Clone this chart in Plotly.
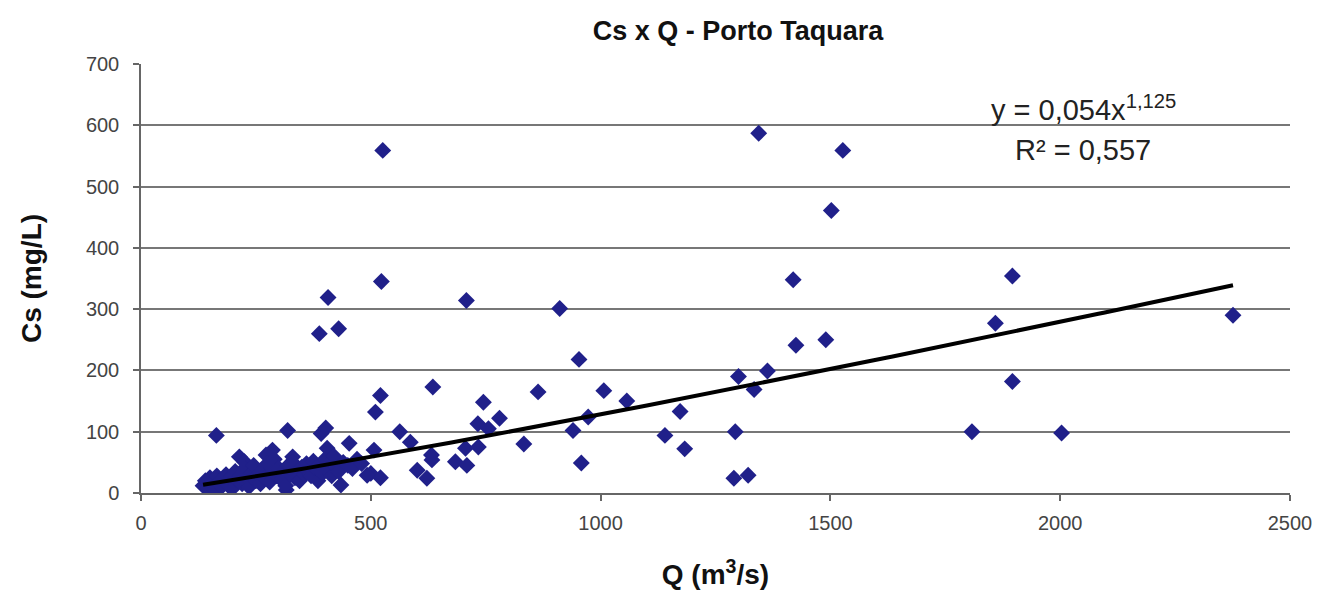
import plotly.graph_objects as go
import numpy as np

# Observed points: discharge Q (m3/s) and suspended sediment concentration Cs (mg/L)
q_vals = [
    526, 1344, 1527, 1502, 1419, 1896, 1859, 2376, 1425, 1490, 1363, 1300, 1334,
    1007, 1057, 1173, 1140, 1183, 1293, 1290, 1321, 1808, 1896, 2003,
    407, 523, 388, 430, 708, 911, 953,
    635, 521, 510, 864, 745, 780, 973, 940, 733, 756, 563, 586, 833, 507, 706,
    734, 632, 633, 684, 709, 958, 601, 622, 500, 521,
    164, 319, 392, 402, 453, 214, 225, 286, 330, 272, 405, 492, 435, 316,
    135, 140, 145, 150, 155, 160, 165, 170, 175, 180, 185, 190, 195, 200, 205,
    210, 215, 220, 225, 230, 235, 240, 245, 250, 255, 260, 265, 270, 275, 280,
    285, 290, 295, 300, 305, 310, 315, 320, 325, 330, 335, 340, 345, 350, 355,
    360, 365, 370, 375, 380, 385, 390, 395, 400, 405, 410, 415, 420, 425, 430,
    440, 450, 460, 470, 480,
]
cs_vals = [
    559, 587, 559, 461, 348, 354, 277, 290, 241, 250, 199, 190, 169,
    167, 150, 133, 94, 72, 100, 24, 29, 100, 182, 98,
    319, 345, 260, 268, 314, 301, 218,
    173, 159, 132, 165, 148, 122, 124, 102, 113, 105, 100, 83, 80, 70, 73,
    75, 62, 54, 51, 45, 49, 37, 24, 32, 25,
    94, 102, 97, 106, 81, 59, 51, 70, 59, 62, 73, 29, 13, 5,
    12, 20, 8, 25, 15, 5, 28, 18, 10, 22, 30, 12, 25, 8, 35,
    20, 28, 15, 40, 25, 10, 32, 45, 20, 30, 15, 38, 25, 48, 18,
    33, 55, 28, 40, 22, 35, 12, 45, 30, 50, 25, 38, 20, 42, 30,
    48, 35, 28, 52, 40, 20, 45, 32, 55, 38, 48, 28, 60, 42, 35,
    50, 45, 40, 55, 48,
]

# Power trendline shown on the chart: y = 0,054 x^1,125
trend_a = 0.054
trend_b = 1.125
trend_q_min = 135
trend_q_max = 2376

x_ticks = [0, 500, 1000, 1500, 2000, 2500]
y_ticks = [0, 100, 200, 300, 400, 500, 600, 700]

FONT = "Liberation Sans, Arial, sans-serif"

tq = np.linspace(trend_q_min, trend_q_max, 200)
tcs = trend_a * tq ** trend_b

fig = go.Figure()
fig.add_trace(go.Scatter(
    x=q_vals, y=cs_vals, mode="markers",
    marker=dict(symbol="diamond", size=13, color="#20208A", line=dict(width=0)),
    showlegend=False, hoverinfo="x+y",
))
fig.add_trace(go.Scatter(
    x=tq, y=tcs, mode="lines",
    line=dict(color="black", width=4),
    showlegend=False, hoverinfo="skip",
))

fig.update_layout(
    width=1336, height=601,
    margin=dict(l=133, r=54, t=56, b=116),
    paper_bgcolor="white", plot_bgcolor="white",
    font=dict(family=FONT, color="#333333"),
    title=dict(text="<b>Cs x Q - Porto Taquara</b>", x=0.5465, xanchor="center",
               y=0.963, yanchor="middle",
               font=dict(family=FONT, size=27, color="#111111")),
    xaxis=dict(
        range=[0, 2500], tickvals=x_ticks, ticktext=[str(v) for v in x_ticks],
        showgrid=False, zeroline=False,
        showline=True, linecolor="#666666", linewidth=1.5,
        ticks="outside", ticklen=6, tickcolor="#666666", tickwidth=1.5,
        tickfont=dict(family=FONT, size=20, color="#444444"),
        ticklabelstandoff=5,
        title=dict(text="<b>Q (m<sup>3</sup>/s)</b>", standoff=32,
                   font=dict(family=FONT, size=28, color="#111111")),
    ),
    yaxis=dict(
        range=[0, 700], tickvals=y_ticks, ticktext=[str(v) for v in y_ticks],
        showgrid=True, gridcolor="#777777", gridwidth=1.5, zeroline=False,
        showline=True, linecolor="#666666", linewidth=1.5,
        ticks="outside", ticklen=6, tickcolor="#666666", tickwidth=1.5,
        tickfont=dict(family=FONT, size=20, color="#444444"),
        ticklabelstandoff=10,
        title=dict(text="<b>Cs (mg/L)</b>", standoff=36,
                   font=dict(family=FONT, size=28, color="#111111")),
    ),
    annotations=[
        dict(xref="x", yref="y", x=2050, y=628, text="y = 0,054x<sup>1,125</sup>",
             showarrow=False, xanchor="center", yanchor="middle",
             font=dict(family=FONT, size=29, color="#222222")),
        dict(xref="x", yref="y", x=2050, y=560, text="R² = 0,557",
             showarrow=False, xanchor="center", yanchor="middle",
             font=dict(family=FONT, size=29, color="#222222")),
    ],
)

fig.write_html("out.html")
